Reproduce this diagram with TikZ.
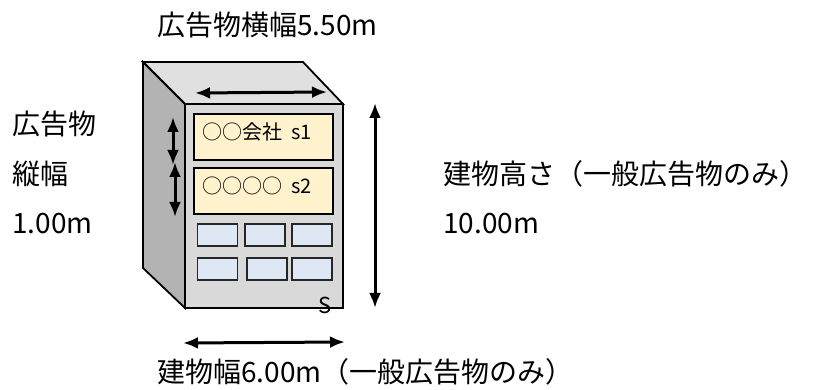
\documentclass[tikz,border=0pt]{standalone}
\usepackage{fontspec}
\setmainfont{Noto Sans CJK JP}
\usepackage{tikz}
\usetikzlibrary{arrows.meta, positioning, calc}
\definecolor{sidegray}{HTML}{B3B3B3}
\definecolor{topgray}{HTML}{E0E0E0}
\definecolor{frontgray}{HTML}{D9D9D9}
\definecolor{signyellow}{HTML}{FFF2CC}
\definecolor{winblue}{HTML}{DEE8F5}

\begin{document}
\begin{tikzpicture}[x=1pt, y=-1pt,
    face/.style={draw=black, line width=1.8pt},
    sign/.style={draw=black, line width=2.6pt, fill=signyellow, minimum width=139pt,
        minimum height=46pt, inner sep=0pt},
    win/.style={draw=black!85, line width=1.5pt, fill=winblue, minimum width=40pt,
        minimum height=22pt, inner sep=0pt},
    dim/.style={{Latex[length=15pt,width=12pt]}-{Latex[length=15pt,width=12pt]}, line width=3pt},
    lbl/.style={anchor=west, inner sep=0pt, font=\fontsize{28}{28}\selectfont},
    signtxt/.style={anchor=west, inner sep=0pt, font=\fontsize{20}{20}\selectfont}]
        \useasboundingbox (0,0) rectangle (817,390);
        % building corners
        \coordinate (bk1) at (143,62);
        \coordinate (bk2) at (303,62);
        \coordinate (bk4) at (143,268);
        \coordinate (fr1) at (185,104);
        \coordinate (fr2) at (343,104);
        \coordinate (fr3) at (343,308);
        \coordinate (fr4) at (185,308);
        \filldraw[face, fill=topgray] (bk1) -- (bk2) -- (fr2) -- (fr1) -- cycle;
        \filldraw[face, fill=sidegray] (bk1) -- (fr1) -- (fr4) -- (bk4) -- cycle;
        \filldraw[face, fill=frontgray] (fr1) -- (fr2) -- (fr3) -- (fr4) -- cycle;
        % signs
        \node[sign] (s1) at (263.5,137) {};
        \node[sign] (s2) at (263.5,191) {};
        \node[signtxt] (s1txt) at (202,132) {○○会社\hspace{9pt}s1};
        \node[signtxt] (s2txt) at (202,186) {○○○○\hspace{9pt}s2};
        % windows
        \foreach \wx/\wy [count=\i] in {217.5/235, 265/235, 312/235, 217.5/269, 267/269, 312/269}
            \node[win] (w\i) at (\wx,\wy) {};
        \node[inner sep=0pt, font=\fontsize{22}{22}\selectfont] (smark) at (325,305) {S};
        % dimension arrows
        \coordinate (hw1) at (195,93);
        \coordinate (hw2) at (327,92);
        \coordinate (vh1) at (173,117);
        \coordinate (vh2) at (173,165);
        \coordinate (vh3) at (175,162);
        \coordinate (vh4) at (175,217);
        \coordinate (bh1) at (375,103);
        \coordinate (bh2) at (375,308);
        \coordinate (bw1) at (183,343);
        \coordinate (bw2) at (345,342);
        \draw[dim] (hw1) -- (hw2);
        \draw[dim] (vh1) -- (vh2);
        \draw[dim] (vh3) -- (vh4);
        \draw[dim] (bh1) -- (bh2);
        \draw[dim] (bw1) -- (bw2);
        % labels
        \node[lbl] (signw) at (157,25) {広告物横幅5.50m};
        \node[lbl] (signh1) at (12,124) {広告物};
        \node[lbl] (signh2) at (12,174) {縦幅};
        \node[lbl] (signh3) at (12,224) {1.00m};
        \node[lbl] (bldh1) at (443,174) {建物高さ（一般広告物のみ）};
        \node[lbl] (bldh2) at (443,224) {10.00m};
        \node[lbl] (bldw) at (157,372) {建物幅6.00m（一般広告物のみ）};
\end{tikzpicture}
\end{document}
